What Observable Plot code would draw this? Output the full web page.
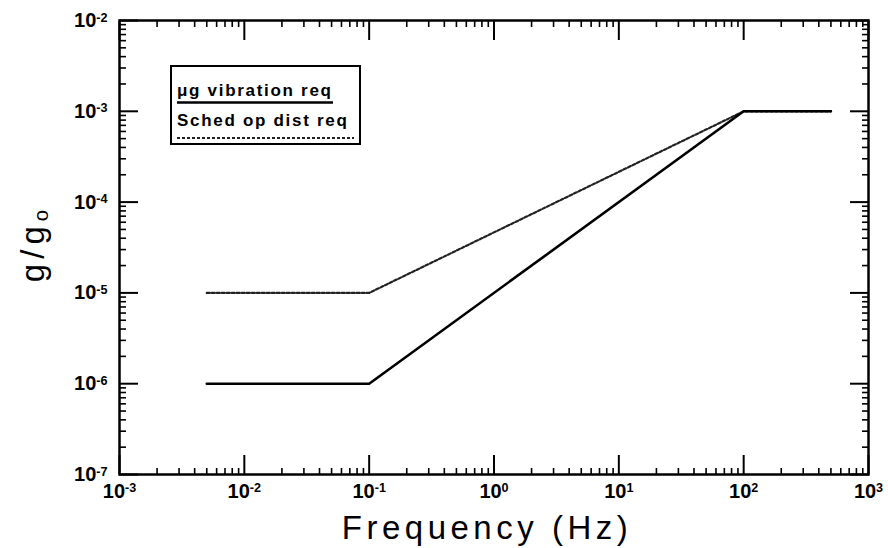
<!DOCTYPE html>
<html><head><meta charset="utf-8">
<script src="https://cdn.jsdelivr.net/npm/d3@7"></script>
<script src="https://cdn.jsdelivr.net/npm/@observablehq/plot@0.6"></script>
<style>body{margin:0;background:#fff;}</style>
</head><body><div id="chart"></div>
<script>
// ---- data ----
const freq = [0.005, 0.1, 100, 500];
const vibReq = [1e-6, 1e-6, 1e-3, 1e-3];
const schedReq = [1e-5, 1e-5, 1e-3, 1e-3];
const seriesNames = ["μg vibration req", "Sched op dist req"];
const xTicks = [1e-3, 1e-2, 1e-1, 1e0, 1e1, 1e2, 1e3];
const xTickExp = ["-3", "-2", "-1", "0", "1", "2", "3"];
const yTicks = [1e-7, 1e-6, 1e-5, 1e-4, 1e-3, 1e-2];
const yTickExp = ["-7", "-6", "-5", "-4", "-3", "-2"];
const minorMult = [2, 3, 4, 5, 6, 7, 8, 9];
const xTitle = "Frequency (Hz)";
const yTitleMain = "g/g";
const yTitleSub = "o";

const xMinor = xTicks.slice(0, -1).flatMap(d => minorMult.map(m => m * d));
const yMinor = yTicks.slice(0, -1).flatMap(d => minorMult.map(m => m * d));
const xExp = new Map(xTicks.map((d, i) => [d, xTickExp[i]]));
const yExp = new Map(yTicks.map((d, i) => [d, yTickExp[i]]));

const vib = freq.map((f, i) => ({f, v: vibReq[i]}));
const sched = freq.map((f, i) => ({f, v: schedReq[i]}));

const font = '"Liberation Sans", Arial, Helvetica, sans-serif';

const plot = Plot.plot({
  width: 888, height: 548,
  marginLeft: 119, marginRight: 20, marginTop: 20, marginBottom: 74,
  style: {fontFamily: font, background: "white", color: "black"},
  x: {type: "log", domain: [1e-3, 1e3], axis: null},
  y: {type: "log", domain: [1e-7, 1e-2], axis: null},
  marks: [
    Plot.line(sched, {x: "f", y: "v", stroke: "#222", strokeWidth: 2.2, strokeDasharray: "3,2"}),
    Plot.line(vib, {x: "f", y: "v", stroke: "black", strokeWidth: 2.6}),
    // inward major/minor ticks on all four sides
    Plot.axisX(xTicks, {anchor: "bottom", tickSize: -19, fill: "none", strokeWidth: 2, label: null}),
    Plot.axisX(xTicks, {anchor: "top", tickSize: -19, fill: "none", strokeWidth: 2, label: null}),
    Plot.axisX(xMinor, {anchor: "bottom", tickSize: -6, fill: "none", strokeWidth: 1.6, label: null}),
    Plot.axisX(xMinor, {anchor: "top", tickSize: -6, fill: "none", strokeWidth: 1.6, label: null}),
    Plot.axisY(yTicks, {anchor: "left", tickSize: -19, fill: "none", strokeWidth: 2, label: null}),
    Plot.axisY(yTicks, {anchor: "right", tickSize: -19, fill: "none", strokeWidth: 2, label: null}),
    Plot.axisY(yMinor, {anchor: "left", tickSize: -7, fill: "none", strokeWidth: 1.6, label: null}),
    Plot.axisY(yMinor, {anchor: "right", tickSize: -7, fill: "none", strokeWidth: 1.6, label: null}),
    // tick labels
    Plot.axisX(xTicks, {anchor: "bottom", tickSize: 0, tickPadding: 9, label: null,
      tickFormat: d => "10^" + xExp.get(d), fontSize: 20, fontWeight: "bold"}),
    Plot.axisY(yTicks, {anchor: "left", tickSize: 0, tickPadding: 12, label: null,
      tickFormat: d => "10^" + yExp.get(d), fontSize: 20, fontWeight: "bold"}),
    Plot.frame({stroke: "black", strokeWidth: 2.5}),
    Plot.text([xTitle], {text: d => d, frameAnchor: "bottom", dx: -7, dy: 64, lineAnchor: "bottom",
      textAnchor: "middle", fontSize: 33, fill: "black"}),
    Plot.text([yTitleMain], {text: d => d, frameAnchor: "left", dx: -86, dy: -4, rotate: -90,
      textAnchor: "middle", lineAnchor: "middle", fontSize: 33, fill: "black"})
  ]
});

const svg = d3.select(plot);
// superscript exponents on tick labels, subscript in y title
svg.selectAll("text").each(function() {
  const t = d3.select(this);
  const s = t.text();
  if (s.includes("^")) {
    const [base, exp] = s.split("^");
    t.text(null);
    t.append("tspan").text(base);
    t.append("tspan").attr("dy", "-0.42em").attr("font-size", "0.63em").text(exp);
  } else if (s === xTitle) {
    t.style("letter-spacing", "4.5px");
  } else if (s === yTitleMain) {
    t.style("letter-spacing", "5px");
    t.append("tspan").attr("dy", "0.18em").attr("font-size", "0.62em").text(yTitleSub);
  }
});

// legend box
const lg = svg.append("g").attr("font-family", font).attr("font-weight", "bold")
  .attr("font-size", 17).attr("text-anchor", "start");
lg.append("rect").attr("x", 171).attr("y", 66).attr("width", 189).attr("height", 78)
  .attr("fill", "white").attr("stroke", "black").attr("stroke-width", 2);
lg.append("text").attr("x", 177).attr("y", 96).style("letter-spacing", "1.7px").text(seriesNames[0]);
lg.append("line").attr("x1", 177).attr("x2", 333).attr("y1", 102.5).attr("y2", 102.5)
  .attr("stroke", "black").attr("stroke-width", 2.5);
lg.append("text").attr("x", 177).attr("y", 126).style("letter-spacing", "1.7px").text(seriesNames[1]);
lg.append("line").attr("x1", 177).attr("x2", 354).attr("y1", 138).attr("y2", 138)
  .attr("stroke", "#222").attr("stroke-width", 2.2).attr("stroke-dasharray", "3,2");

document.getElementById("chart").appendChild(plot);
</script>
</body></html>
